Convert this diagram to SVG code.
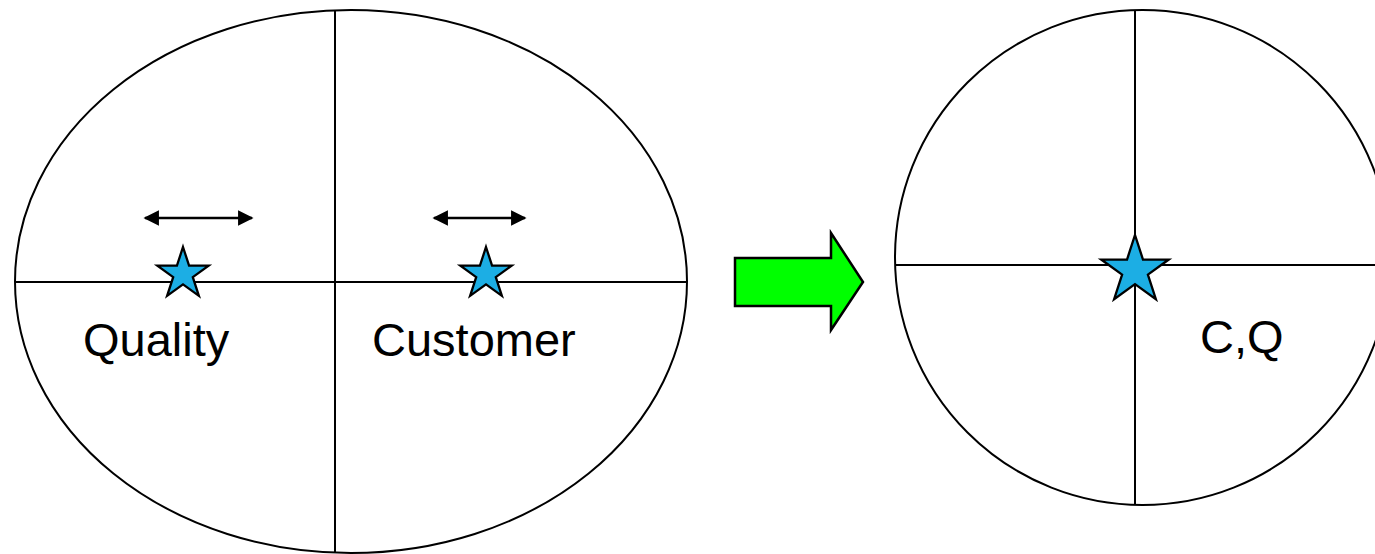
<svg xmlns="http://www.w3.org/2000/svg" width="1375" height="554" viewBox="0 0 1375 554">
  <style>
    .outline { fill: #ffffff; stroke: #000000; stroke-width: 2; }
    .axis { stroke: #000000; stroke-width: 2; fill: none; }
    .star { fill: #1CAEE4; stroke: #000000; stroke-linejoin: miter; }
    .dbl { stroke: #000000; stroke-width: 2.5; fill: none; marker-start: url(#head); marker-end: url(#head); }
    .label { font-family: "Liberation Sans", Arial, sans-serif; font-size: 47px; fill: #000000; }
  </style>
  <defs>
    <marker id="head" viewBox="0 0 10 10" refX="9" refY="5" markerWidth="6.2" markerHeight="6.2" orient="auto-start-reverse" markerUnits="strokeWidth">
      <path d="M0,0 L10,5 L0,10 z" fill="#000000"/>
    </marker>
    <!-- five-pointed star, outer radius 1 -->
    <polygon id="star5" points="0,-1 0.2245,-0.309 0.9511,-0.309 0.3633,0.118 0.5878,0.809 0,0.382 -0.5878,0.809 -0.3633,0.118 -0.9511,-0.309 -0.2245,-0.309"/>
  </defs>

  <!-- left ellipse split into quadrants -->
  <g id="left-ellipse">
    <ellipse class="outline" cx="351" cy="281.5" rx="336" ry="271.5"/>
    <line class="axis" x1="335" y1="10" x2="335" y2="553"/>
    <line class="axis" x1="15" y1="282" x2="687" y2="282"/>
  </g>

  <g id="quality">
    <path class="dbl" d="M145,218 L252,218"/>
    <use href="#star5" class="star" transform="translate(183,274) scale(27)" style="stroke-width:0.085"/>
    <text class="label" x="83" y="356">Quality</text>
  </g>

  <g id="customer">
    <path class="dbl" d="M434,218 L525,218"/>
    <use href="#star5" class="star" transform="translate(486,274) scale(27)" style="stroke-width:0.085"/>
    <text class="label" x="372" y="356">Customer</text>
  </g>

  <!-- block arrow between the two shapes -->
  <g id="connectors">
    <polygon points="735,258 831,258 831,233 863,282 831,330 831,306 735,306" fill="#00FF00" stroke="#000000" stroke-width="2.5" stroke-linejoin="miter"/>
  </g>

  <!-- right circle with merged point -->
  <g id="right-circle">
    <ellipse class="outline" cx="1142.5" cy="257.5" rx="247.5" ry="247.5"/>
    <line class="axis" x1="1135" y1="10" x2="1135" y2="505"/>
    <line class="axis" x1="895" y1="265" x2="1375" y2="265"/>
  </g>

  <g id="merged">
    <use href="#star5" class="star" transform="translate(1135,270.5) scale(35.5)" style="stroke-width:0.065"/>
    <text class="label" x="1200" y="353">C,Q</text>
  </g>
</svg>
